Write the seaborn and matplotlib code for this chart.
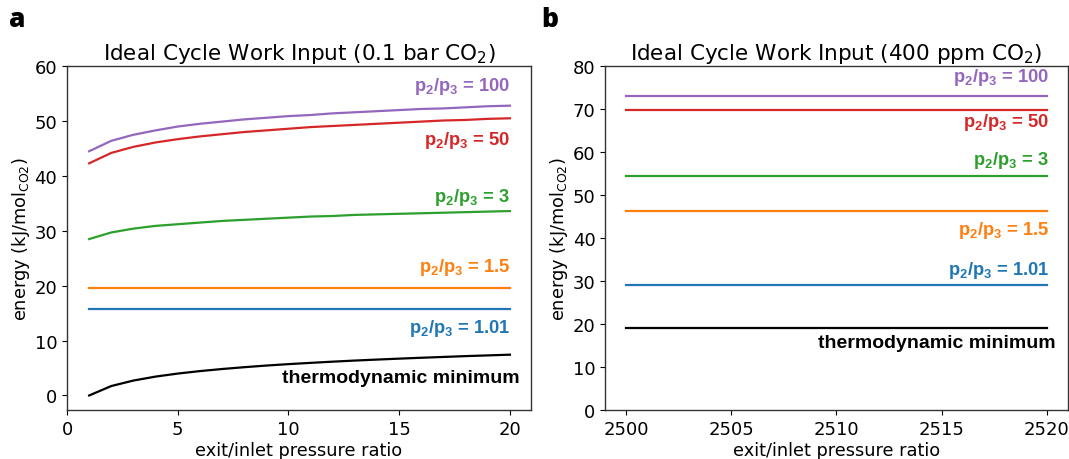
import matplotlib
matplotlib.use("Agg")
import matplotlib.pyplot as plt
import numpy as np
import pandas as pd
import seaborn as sns

# Panel a: 0.1 bar CO2 feed, exit/inlet pressure ratio 1..20
ratio_a = list(range(1, 21))
work_100_a = [44.5, 46.4, 47.5, 48.3, 49.0, 49.5, 49.9, 50.3, 50.6, 50.9,
              51.1, 51.4, 51.6, 51.8, 52.0, 52.2, 52.3, 52.5, 52.7, 52.8]
work_50_a = [42.3, 44.2, 45.3, 46.1, 46.7, 47.2, 47.6, 48.0, 48.3, 48.6,
             48.9, 49.1, 49.3, 49.5, 49.7, 49.9, 50.1, 50.2, 50.4, 50.5]
work_3_a = [28.5, 29.7, 30.4, 30.9, 31.2, 31.5, 31.8, 32.0, 32.2, 32.4,
            32.6, 32.7, 32.9, 33.0, 33.1, 33.2, 33.3, 33.4, 33.5, 33.6]
work_15_a = [19.5] * 20
work_101_a = [15.7] * 20
work_min_a = [0.0, 1.72, 2.72, 3.44, 3.99, 4.44, 4.82, 5.15, 5.45, 5.71,
              5.94, 6.16, 6.36, 6.54, 6.71, 6.87, 7.02, 7.17, 7.30, 7.43]

# Panel b: 400 ppm CO2 feed, exit/inlet pressure ratio 2500..2520
ratio_b = list(range(2500, 2521))
work_100_b = [73.1] * 21
work_50_b = [69.9] * 21
work_3_b = [54.4] * 21
work_15_b = [46.4] * 21
work_101_b = [29.2] * 21
work_min_b = [19.1] * 21

series_names = ["p2/p3 = 100", "p2/p3 = 50", "p2/p3 = 3", "p2/p3 = 1.5",
                "p2/p3 = 1.01", "thermodynamic minimum"]
series_labels = [r"p$_\mathbf{2}$/p$_\mathbf{3}$ = 100",
                 r"p$_\mathbf{2}$/p$_\mathbf{3}$ = 50",
                 r"p$_\mathbf{2}$/p$_\mathbf{3}$ = 3",
                 r"p$_\mathbf{2}$/p$_\mathbf{3}$ = 1.5",
                 r"p$_\mathbf{2}$/p$_\mathbf{3}$ = 1.01",
                 "thermodynamic minimum"]
series_colors = ["#9467bd", "#d62728", "#2ca02c", "#ff7f0e", "#1f77b4", "black"]
label_sizes = [13.2, 13.2, 13.2, 13.2, 13.2, 14.0]

# label anchor heights (data units) for each panel
label_y_a = [56.4, 46.7, 36.3, 23.5, 12.4, 3.3]
label_x_a = [20.0, 20.0, 20.0, 20.0, 20.0, 20.45]
label_y_b = [77.6, 67.1, 58.3, 42.0, 32.6, 15.6]
label_x_b = [2520.1, 2520.1, 2520.1, 2520.1, 2520.1, 2520.4]

plt.rcParams["mathtext.fontset"] = "custom"
plt.rcParams["mathtext.rm"] = "DejaVu Sans"
plt.rcParams["mathtext.bf"] = "Liberation Sans:bold"


def long_frame(x, cols):
    frames = []
    for name, vals in zip(series_names, cols):
        frames.append(pd.DataFrame({"ratio": x, "energy": vals, "series": name}))
    return pd.concat(frames, ignore_index=True)


df_a = long_frame(ratio_a, [work_100_a, work_50_a, work_3_a, work_15_a,
                            work_101_a, work_min_a])
df_b = long_frame(ratio_b, [work_100_b, work_50_b, work_3_b, work_15_b,
                            work_101_b, work_min_b])

fig = plt.figure(figsize=(10.69, 4.60), dpi=100)
ax_a = fig.add_axes([0.0627, 0.1065, 0.4340, 0.7475])
ax_b = fig.add_axes([0.5660, 0.1065, 0.4330, 0.7475])

palette = dict(zip(series_names, series_colors))

for ax, df, ly, lx, title in [
        (ax_a, df_a, label_y_a, label_x_a, r"Ideal Cycle Work Input (0.1 bar CO$_2$)"),
        (ax_b, df_b, label_y_b, label_x_b, r"Ideal Cycle Work Input (400 ppm CO$_2$)")]:
    sns.lineplot(data=df, x="ratio", y="energy", hue="series", palette=palette,
                 hue_order=series_names, linewidth=1.6, legend=False, ax=ax)
    for lab, col, yy, xx, fs in zip(series_labels, series_colors, ly, lx, label_sizes):
        ax.text(xx, yy, lab, color=col, ha="right", va="center",
                fontsize=fs, fontweight="bold", family="Liberation Sans")
    ax.set_title(title, fontsize=15.5, pad=5)
    ax.set_xlabel("exit/inlet pressure ratio", fontsize=12.8, labelpad=2)
    ax.set_ylabel(r"energy (kJ/mol$_{\mathrm{CO2}}$)", fontsize=12.8, labelpad=2)
    ax.tick_params(labelsize=13)
    for sp in ax.spines.values():
        sp.set_color("#333333")
        sp.set_linewidth(1.0)

ax_a.set_xlim(0, 20.95)
ax_a.set_ylim(-2.65, 60)
ax_a.set_xticks([0, 5, 10, 15, 20])
ax_a.set_yticks([0, 10, 20, 30, 40, 50, 60])

ax_b.set_xlim(2499, 2521)
ax_b.set_ylim(0, 80)
ax_b.set_xticks([2500, 2505, 2510, 2515, 2520])
ax_b.set_yticks([0, 10, 20, 30, 40, 50, 60, 70, 80])

fig.text(0.008, 0.985, "a", fontsize=19, fontweight="heavy", family="Open Sans",
         va="top", ha="left")
fig.text(0.506, 0.985, "b", fontsize=19, fontweight="heavy", family="Open Sans",
         va="top", ha="left")

fig.savefig("out.png", dpi=100)
